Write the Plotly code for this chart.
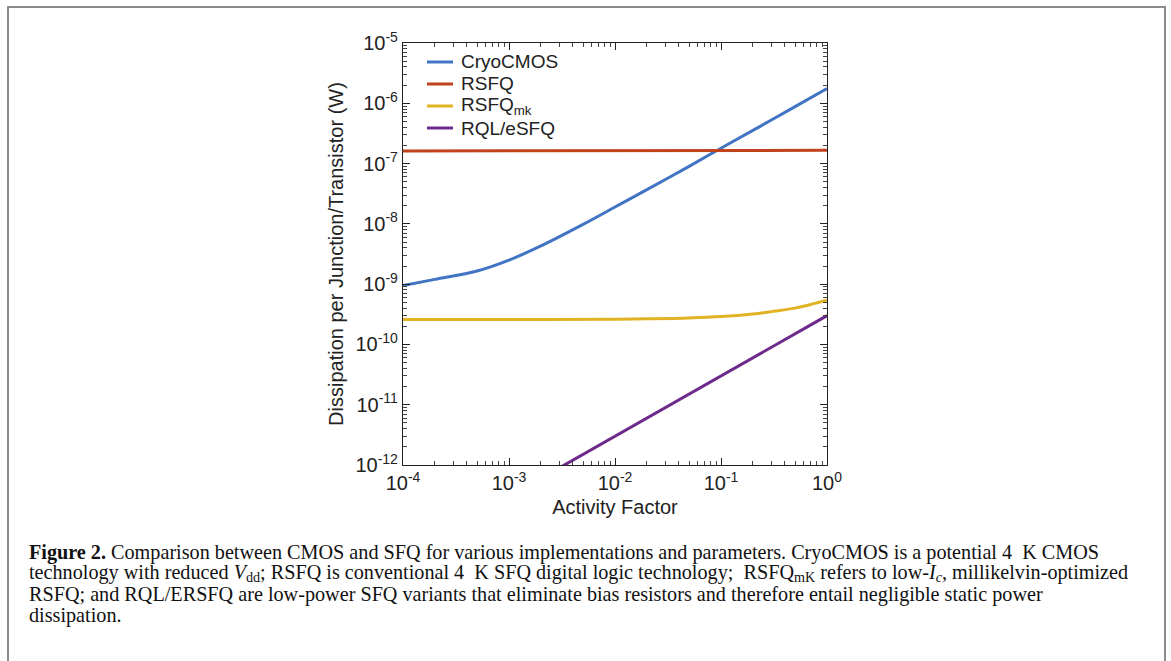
import plotly.graph_objects as go

# ---------------- data ----------------
activity = [1e-4, 2e-4, 5e-4, 1e-3, 2e-3, 5e-3, 1e-2, 2e-2, 5e-2, 1e-1, 2e-1, 5e-1, 1.0]
cryocmos = [9.5e-10, 1.2e-9, 1.65e-9, 2.5e-9, 4.3e-9, 9.8e-9, 1.9e-8, 3.7e-8, 9.0e-8, 1.8e-7, 3.55e-7, 8.8e-7, 1.75e-6]

rsfq_x = [1e-4, 1e-3, 1e-2, 1e-1, 0.5, 0.55, 1.0]
rsfq = [1.62e-7, 1.62e-7, 1.62e-7, 1.62e-7, 1.62e-7, 1.65e-7, 1.66e-7]

rsfqmk_x = [1e-4, 1e-3, 1e-2, 2e-2, 5e-2, 1e-1, 2e-1, 3e-1, 5e-1, 7e-1, 1.0]
rsfqmk = [2.6e-10, 2.6e-10, 2.62e-10, 2.66e-10, 2.75e-10, 2.9e-10, 3.2e-10, 3.5e-10, 4.0e-10, 4.6e-10, 5.4e-10]

rql_x = [1e-4, 1e-3, 1e-2, 1e-1, 1.0]
rql = [3.0e-14, 3.0e-13, 3.0e-12, 3.0e-11, 3.0e-10]

series_names = ["CryoCMOS", "RSFQ", "RSFQ<sub>mk</sub>", "RQL/eSFQ"]
series_colors = ["#4274C4", "#C2421C", "#E1B324", "#6E2A8A"]

x_tickvals = [1e-4, 1e-3, 1e-2, 1e-1, 1.0]
x_ticktext = ["10<sup>-4</sup>", "10<sup>-3</sup>", "10<sup>-2</sup>", "10<sup>-1</sup>", "10<sup>0</sup>"]
y_tickvals = [1e-12, 1e-11, 1e-10, 1e-9, 1e-8, 1e-7, 1e-6, 1e-5]
y_ticktext = ["10<sup>-12</sup>", "10<sup>-11</sup>", "10<sup>-10</sup>", "10<sup>-9</sup>",
              "10<sup>-8</sup>", "10<sup>-7</sup>", "10<sup>-6</sup>", "10<sup>-5</sup>"]

SUB = '<span style="font-size:70%;baseline-shift:-3px">{}</span>'
caption_lines = [
    "<b>Figure 2.</b> Comparison between CMOS and SFQ for various implementations and parameters. CryoCMOS is a potential 4  K CMOS",
    "technology with reduced <i>V</i>" + SUB.format("dd") + "; RSFQ is conventional 4  K SFQ digital logic technology;  RSFQ"
    + SUB.format("mK") + " refers to low-<i>I</i>" + SUB.format("<i>c</i>") + ", millikelvin-optimized",
    "RSFQ; and RQL/ERSFQ are low-power SFQ variants that eliminate bias resistors and therefore entail negligible static power",
    "dissipation.",
]

# ---------------- layout geometry ----------------
W, H = 1171, 661
L, R, T, B = 403, 827, 43, 465  # plot area in pixels


def px(xpix):
    return (xpix - L) / (R - L)


def py(ypix):
    return (B - ypix) / (B - T)


fig = go.Figure()
lw = 3
xs = [activity, rsfq_x, rsfqmk_x, rql_x]
ys = [cryocmos, rsfq, rsfqmk, rql]
shapes_kind = ["spline", "linear", "spline", "linear"]
for xv, yv, nm, col, sh in zip(xs, ys, series_names, series_colors, shapes_kind):
    fig.add_trace(go.Scatter(x=xv, y=yv, mode="lines", name=nm, showlegend=False,
                             line=dict(color=col, width=lw, shape=sh)))

axis_common = dict(
    type="log", showgrid=False, zeroline=False, showline=True, linecolor="#222",
    linewidth=1.2, mirror="allticks", ticks="inside", ticklen=7, tickcolor="#222",
    tickwidth=1, tickmode="array",
    tickfont=dict(family="Liberation Sans, Arial", size=20, color="#222"),
    minor=dict(ticks="inside", ticklen=4, tickcolor="#444", dtick="D1", showgrid=False),
)

fig.update_xaxes(range=[-4, 0], tickvals=x_tickvals, ticktext=x_ticktext,
                 title=dict(text="Activity Factor", standoff=6,
                            font=dict(family="Liberation Sans, Arial", size=20, color="#222")),
                 **axis_common)
fig.update_yaxes(range=[-12, -5], tickvals=y_tickvals, ticktext=y_ticktext,
                 title=dict(text="Dissipation per Junction/Transistor (W)", standoff=6,
                            font=dict(family="Liberation Sans, Arial", size=20, color="#222")),
                 **axis_common)

annotations = []
shapes = [dict(type="rect", xref="paper", yref="paper",
               x0=px(8), x1=px(1165), y0=py(7), y1=py(700),
               line=dict(color="#8C8C8C", width=2), fillcolor="rgba(0,0,0,0)", layer="below")]

# legend (drawn as line samples + text)
for i, (nm, col) in enumerate(zip(series_names, series_colors)):
    yc = 62 + 22 * i
    shapes.append(dict(type="line", xref="paper", yref="paper",
                       x0=px(427), x1=px(453), y0=py(yc), y1=py(yc),
                       line=dict(color=col, width=3)))
    annotations.append(dict(text=nm, x=px(459), y=py(yc), xref="paper", yref="paper",
                            xanchor="left", yanchor="middle", showarrow=False,
                            font=dict(family="Liberation Sans, Arial", size=19, color="#222")))

for i, line in enumerate(caption_lines):
    annotations.append(dict(
        text=line, x=px(27), y=py(552 + 21.2 * i), xref="paper", yref="paper",
        xanchor="left", yanchor="middle", showarrow=False, align="left",
        font=dict(family="Liberation Serif, Times New Roman", size=20.2, color="#111"),
    ))

fig.update_layout(
    width=W, height=H,
    margin=dict(l=L, r=W - R, t=T, b=H - B, pad=0),
    paper_bgcolor="white", plot_bgcolor="white",
    showlegend=False,
    annotations=annotations,
    shapes=shapes,
)

fig.write_html("out.html")
